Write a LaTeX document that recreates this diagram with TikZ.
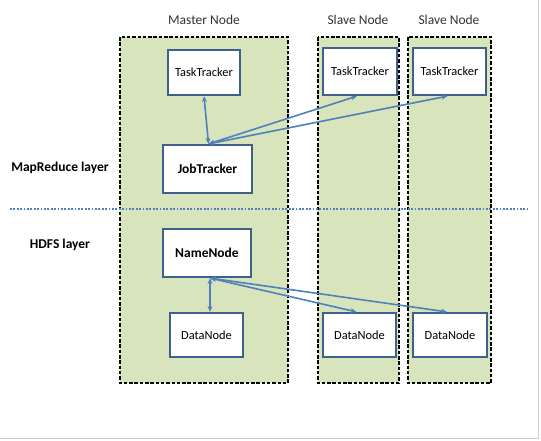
\documentclass[tikz,border=0pt]{standalone}
\usepackage{fontspec}
\setmainfont{Carlito}
\usetikzlibrary{arrows.meta}
\definecolor{zone}{HTML}{D7E4BC}
\definecolor{boxline}{HTML}{3F5F8C}
\definecolor{arr}{HTML}{4F81BD}
\tikzset{
  zonebox/.style={draw=black, fill=zone, line width=1.8pt, dash pattern=on 3.5pt off 1.8pt},
  compbox/.style={draw=boxline, fill=white, line width=2.2pt, inner sep=0pt},
  title/.style={font=\fontsize{13.5}{15}\selectfont, text=black!80},
  layer/.style={font=\fontsize{13.5}{15}\selectfont\bfseries},
  small/.style={font=\fontsize{12.4}{14}\selectfont},
  big/.style={font=\fontsize{13.5}{15}\selectfont\bfseries},
  link/.style={draw=arr, line width=1.6pt, {Stealth[length=6pt,width=5pt]}-{Stealth[length=6pt,width=5pt]}},
}
\begin{document}
\begin{tikzpicture}[x=1pt,y=-1pt]
\useasboundingbox (0,0) rectangle (541,440);
\fill[white] (0,0) rectangle (541,440);
\draw[black!20, line width=1pt] (538,0) -- (538,438) -- (0,438);
% zones
\draw[zonebox] (120,37) rectangle (288,383);
\draw[zonebox] (318,37) rectangle (399,383);
\draw[zonebox] (408,37) rectangle (491,383);
% titles
\node[title] (tm) at (204,20) {Master Node};
\node[title] (ts1) at (358,20) {Slave Node};
\node[title] (ts2) at (449,20) {Slave Node};
% layer line
\draw[arr, line width=2.2pt, dash pattern=on 1.8pt off 1.6pt] (10,209) coordinate (l1) -- (527,209) coordinate (l2);
\node[layer] (mr) at (60,168) {MapReduce layer};
\node[layer] (hd) at (60,245) {HDFS layer};
% components
\node[compbox, small, minimum width=72pt, minimum height=45pt] (tt0) at (204,72.5) {TaskTracker};
\node[compbox, small, minimum width=74pt, minimum height=47pt] (tt1) at (360,71.5) {TaskTracker};
\node[compbox, small, minimum width=73pt, minimum height=47pt] (tt2) at (449.5,71.5) {TaskTracker};
\node[compbox, big, minimum width=89pt, minimum height=48pt] (jt) at (207.5,169) {JobTracker};
\node[compbox, big, minimum width=88pt, minimum height=48pt] (nn) at (207,253) {NameNode};
\node[compbox, small, minimum width=73pt, minimum height=44pt] (dn0) at (206.5,335) {DataNode};
\node[compbox, small, minimum width=73pt, minimum height=44pt] (dn1) at (359.5,335) {DataNode};
\node[compbox, small, minimum width=74pt, minimum height=44pt] (dn2) at (450,335) {DataNode};
% links
\coordinate (jtop) at ([xshift=1pt]jt.north);
\coordinate (nbot) at ([xshift=3pt]nn.south);
\draw[link] (tt0.south) -- (jtop);
\draw[link] (jtop) -- ([xshift=-3pt]tt1.south);
\draw[link] (jtop) -- ([xshift=-2pt]tt2.south);
\draw[link] (nbot) -- (nbot |- dn0.north);
\draw[link] (nbot) -- ([xshift=-3pt]dn1.north);
\draw[link] (nbot) -- ([xshift=-3pt]dn2.north);
\end{tikzpicture}
\end{document}
